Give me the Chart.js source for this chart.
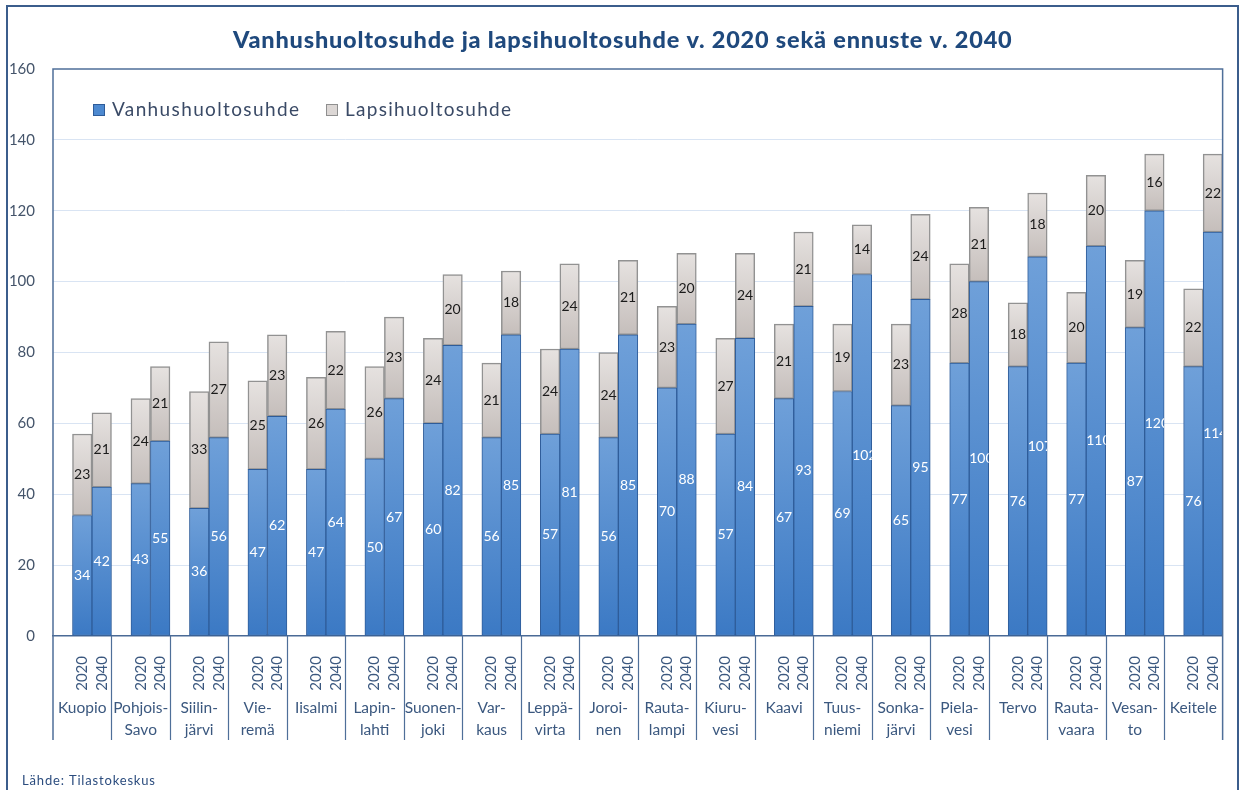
<!DOCTYPE html>
<html>
<head>
<meta charset="utf-8">
<title>Vanhushuoltosuhde ja lapsihuoltosuhde</title>
<script src="https://cdn.jsdelivr.net/npm/chart.js@4.4.1/dist/chart.umd.min.js"></script>
<style>
  html, body { margin: 0; padding: 0; background: #fff; }
  #wrap { width: 1243px; height: 790px; }
</style>
</head>
<body>
<div id="wrap"><canvas id="kaavio"></canvas></div>
<script>
// --- data (luettu kuvasta) ---
const kunnat = [
  ["Kuopio"], ["Pohjois-", "Savo"], ["Siilin-", "järvi"], ["Vie-", "remä"], ["Iisalmi"],
  ["Lapin-", "lahti"], ["Suonen-", "joki"], ["Var-", "kaus"], ["Leppä-", "virta"], ["Joroi-", "nen"],
  ["Rauta-", "lampi"], ["Kiuru-", "vesi"], ["Kaavi"], ["Tuus-", "niemi"], ["Sonka-", "järvi"],
  ["Piela-", "vesi"], ["Tervo"], ["Rauta-", "vaara"], ["Vesan-", "to"], ["Keitele"]
];
const vuodet = ["2020", "2040"];
const vanhus2020 = [34, 43, 36, 47, 47, 50, 60, 56, 57, 56, 70, 57, 67, 69, 65, 77, 76, 77, 87, 76];
const vanhus2040 = [42, 55, 56, 62, 64, 67, 82, 85, 81, 85, 88, 84, 93, 102, 95, 100, 107, 110, 120, 114];
const lapsi2020 = [23, 24, 33, 25, 26, 26, 24, 21, 24, 24, 23, 27, 21, 19, 23, 28, 18, 20, 19, 22];
const lapsi2040 = [21, 21, 27, 23, 22, 23, 20, 18, 24, 21, 20, 24, 21, 14, 24, 21, 18, 20, 16, 22];
const yMin = 0, yMax = 160, yStep = 20;
const otsikko = "Vanhushuoltosuhde ja lapsihuoltosuhde v. 2020 sekä ennuste v. 2040";
const lahde = "Lähde: Tilastokeskus";

const FONT = "Lato, 'Open Sans', sans-serif";
const TEKSTI = "#3b587f";

// jokaisessa ryhmässä tyhjä paikka + 2020 + 2040 (kuten Excelissä)
const labels = [], vanhusData = [], lapsiData = [];
kunnat.forEach((k, i) => {
  labels.push("", vuodet[0], vuodet[1]);
  vanhusData.push(null, vanhus2020[i], vanhus2040[i]);
  lapsiData.push(null, lapsi2020[i], lapsi2040[i]);
});

function liukuvari(c, ylaVari, alaVari, pohja) {
  const { ctx, chartArea, scales } = c.chart;
  if (!chartArea || c.type !== "data" || c.raw == null) return alaVari;
  const b = pohja ? (pohja[c.dataIndex] || 0) : 0;
  const y0 = scales.y.getPixelForValue(b);
  const y1 = scales.y.getPixelForValue(b + c.raw);
  if (!isFinite(y0) || !isFinite(y1) || y0 === y1) return alaVari;
  const g = ctx.createLinearGradient(0, y1, 0, y0);
  g.addColorStop(0, ylaVari);
  g.addColorStop(1, alaVari);
  return g;
}

// teksti venytetään kirjainvälillä haluttuun leveyteen (Calibri-tyylinen harva teksti)
function levitettyTeksti(ctx, txt, x, y, leveys) {
  ctx.letterSpacing = "0px";
  const w = ctx.measureText(txt).width;
  const lv = Math.max(0, (leveys - w) / (txt.length - 1));
  ctx.letterSpacing = lv.toFixed(2) + "px";
  ctx.textAlign = "left";
  ctx.fillText(txt, x, y);
  ctx.letterSpacing = "0px";
}

// arvot palkkien sisään
const arvoPlugin = {
  id: "arvot",
  afterDatasetsDraw(chart) {
    const ctx = chart.ctx;
    ctx.save();
    ctx.font = "14px " + FONT;
    ctx.textBaseline = "middle";
    chart.data.datasets.forEach((ds, di) => {
      const meta = chart.getDatasetMeta(di);
      meta.data.forEach((el, i) => {
        const v = ds.data[i];
        if (v == null) return;
        const txt = String(Math.round(v));
        const cy = (el.y + el.base) / 2;
        const w = ctx.measureText(txt).width;
        const left = el.x - el.width / 2;
        ctx.fillStyle = di === 0 ? "#ffffff" : "#1b1b1b";
        if (w > el.width - 2) {
          ctx.save();
          ctx.beginPath();
          ctx.rect(left, el.y, el.width, el.base - el.y);
          ctx.clip();
          ctx.textAlign = "left";
          ctx.fillText(txt, left, cy);
          ctx.restore();
        } else {
          ctx.textAlign = "center";
          ctx.fillText(txt, el.x, cy);
        }
      });
    });
    ctx.restore();
  }
};

// kehykset, otsikko, selite, kuntien nimet ja lähde
const kehysPlugin = {
  id: "kehys",
  beforeDraw(chart) {
    const ctx = chart.ctx;
    ctx.save();
    ctx.fillStyle = "#fff";
    ctx.fillRect(0, 0, chart.width, chart.height);
    ctx.restore();
  },
  afterDraw(chart) {
    const { ctx, chartArea: a, scales } = chart;
    const xs = scales.x;
    const ala = 740;
    ctx.save();

    // ulkokehys
    ctx.strokeStyle = "#3b5d8c";
    ctx.lineWidth = 2;
    ctx.strokeRect(7, 6, chart.width - 12, chart.height + 10);

    // piirtoalueen kehys
    ctx.strokeStyle = "#4f6f99";
    ctx.lineWidth = 1.5;
    ctx.beginPath();
    ctx.moveTo(a.left, ala); ctx.lineTo(a.left, a.top);
    ctx.lineTo(a.right, a.top); ctx.lineTo(a.right, ala);
    ctx.stroke();

    // ryhmien erottimet
    ctx.lineWidth = 1.2;
    ctx.beginPath();
    for (let k = 1; k < kunnat.length; k++) {
      const x = Math.round((xs.getPixelForValue(3 * k - 1) + xs.getPixelForValue(3 * k)) / 2) + 0.5;
      ctx.moveTo(x, a.bottom); ctx.lineTo(x, ala);
    }
    ctx.stroke();

    // kuntien nimet
    ctx.fillStyle = TEKSTI;
    ctx.font = "15.5px " + FONT;
    ctx.textAlign = "center";
    ctx.textBaseline = "middle";
    kunnat.forEach((rivit, k) => {
      const x = xs.getPixelForValue(3 * k + 1);
      rivit.forEach((r, j) => ctx.fillText(r, x, 708 + j * 22));
    });

    // otsikko
    ctx.fillStyle = "#1f497d";
    ctx.font = "900 23.5px " + FONT;
    levitettyTeksti(ctx, otsikko, 233, 40, 779);

    // selite
    ctx.font = "19px " + FONT;
    const selite = [
      { teksti: chart.data.datasets[0].label, x: 93, leveys: 187, tayte: "#4d89d0", reuna: "#2e5c99" },
      { teksti: chart.data.datasets[1].label, x: 326, leveys: 166, tayte: "#dcd7d5", reuna: "#8f8f8f" }
    ];
    selite.forEach(s => {
      ctx.fillStyle = s.tayte;
      ctx.fillRect(s.x, 104, 11, 11);
      ctx.strokeStyle = s.reuna;
      ctx.lineWidth = 1;
      ctx.strokeRect(s.x + 0.5, 104.5, 11, 11);
      ctx.fillStyle = "#3a4a66";
      levitettyTeksti(ctx, s.teksti, s.x + 19, 110, s.leveys);
    });

    // lähde
    ctx.fillStyle = "#2b4c7e";
    ctx.font = "13px " + FONT;
    levitettyTeksti(ctx, lahde, 22, 781, 133);
    ctx.restore();
  }
};

new Chart(document.getElementById("kaavio"), {
  type: "bar",
  data: {
    labels: labels,
    datasets: [
      {
        label: "Vanhushuoltosuhde",
        data: vanhusData,
        backgroundColor: c => liukuvari(c, "#6fa0d9", "#3b79c4", null),
        borderColor: "#2e5c99",
        borderWidth: 1,
        borderSkipped: false
      },
      {
        label: "Lapsihuoltosuhde",
        data: lapsiData,
        backgroundColor: c => liukuvari(c, "#e6e2e0", "#c5bebb", vanhusData),
        borderColor: "#929292",
        borderWidth: 1.5,
        borderSkipped: false
      }
    ]
  },
  options: {
    responsive: true,
    maintainAspectRatio: false,
    animation: false,
    layout: { padding: { top: 69, right: 15, left: 0, bottom: 0 } },
    datasets: { bar: { categoryPercentage: 1, barPercentage: 1 } },
    plugins: {
      legend: { display: false },
      title: { display: false },
      tooltip: { enabled: false }
    },
    scales: {
      x: {
        stacked: true,
        grid: { display: false },
        border: { display: true, color: "#4a6a96", width: 1.5 },
        ticks: {
          autoSkip: false, minRotation: 90, maxRotation: 90, padding: 12,
          color: TEKSTI, font: { family: FONT, size: 15 }
        },
        afterFit(s) { s.height = 154; }
      },
      y: {
        stacked: true,
        min: yMin, max: yMax,
        border: { display: false },
        grid: {
          drawTicks: false,
          color: c => (c.tick && (c.tick.value === yMin || c.tick.value === yMax)) ? "rgba(0,0,0,0)" : "#d9e4f3"
        },
        ticks: { stepSize: yStep, padding: 18, color: "#44546a", font: { family: FONT, size: 15 } },
        afterFit(s) { s.width = 53; }
      }
    }
  },
  plugins: [arvoPlugin, kehysPlugin]
});
</script>
</body>
</html>
